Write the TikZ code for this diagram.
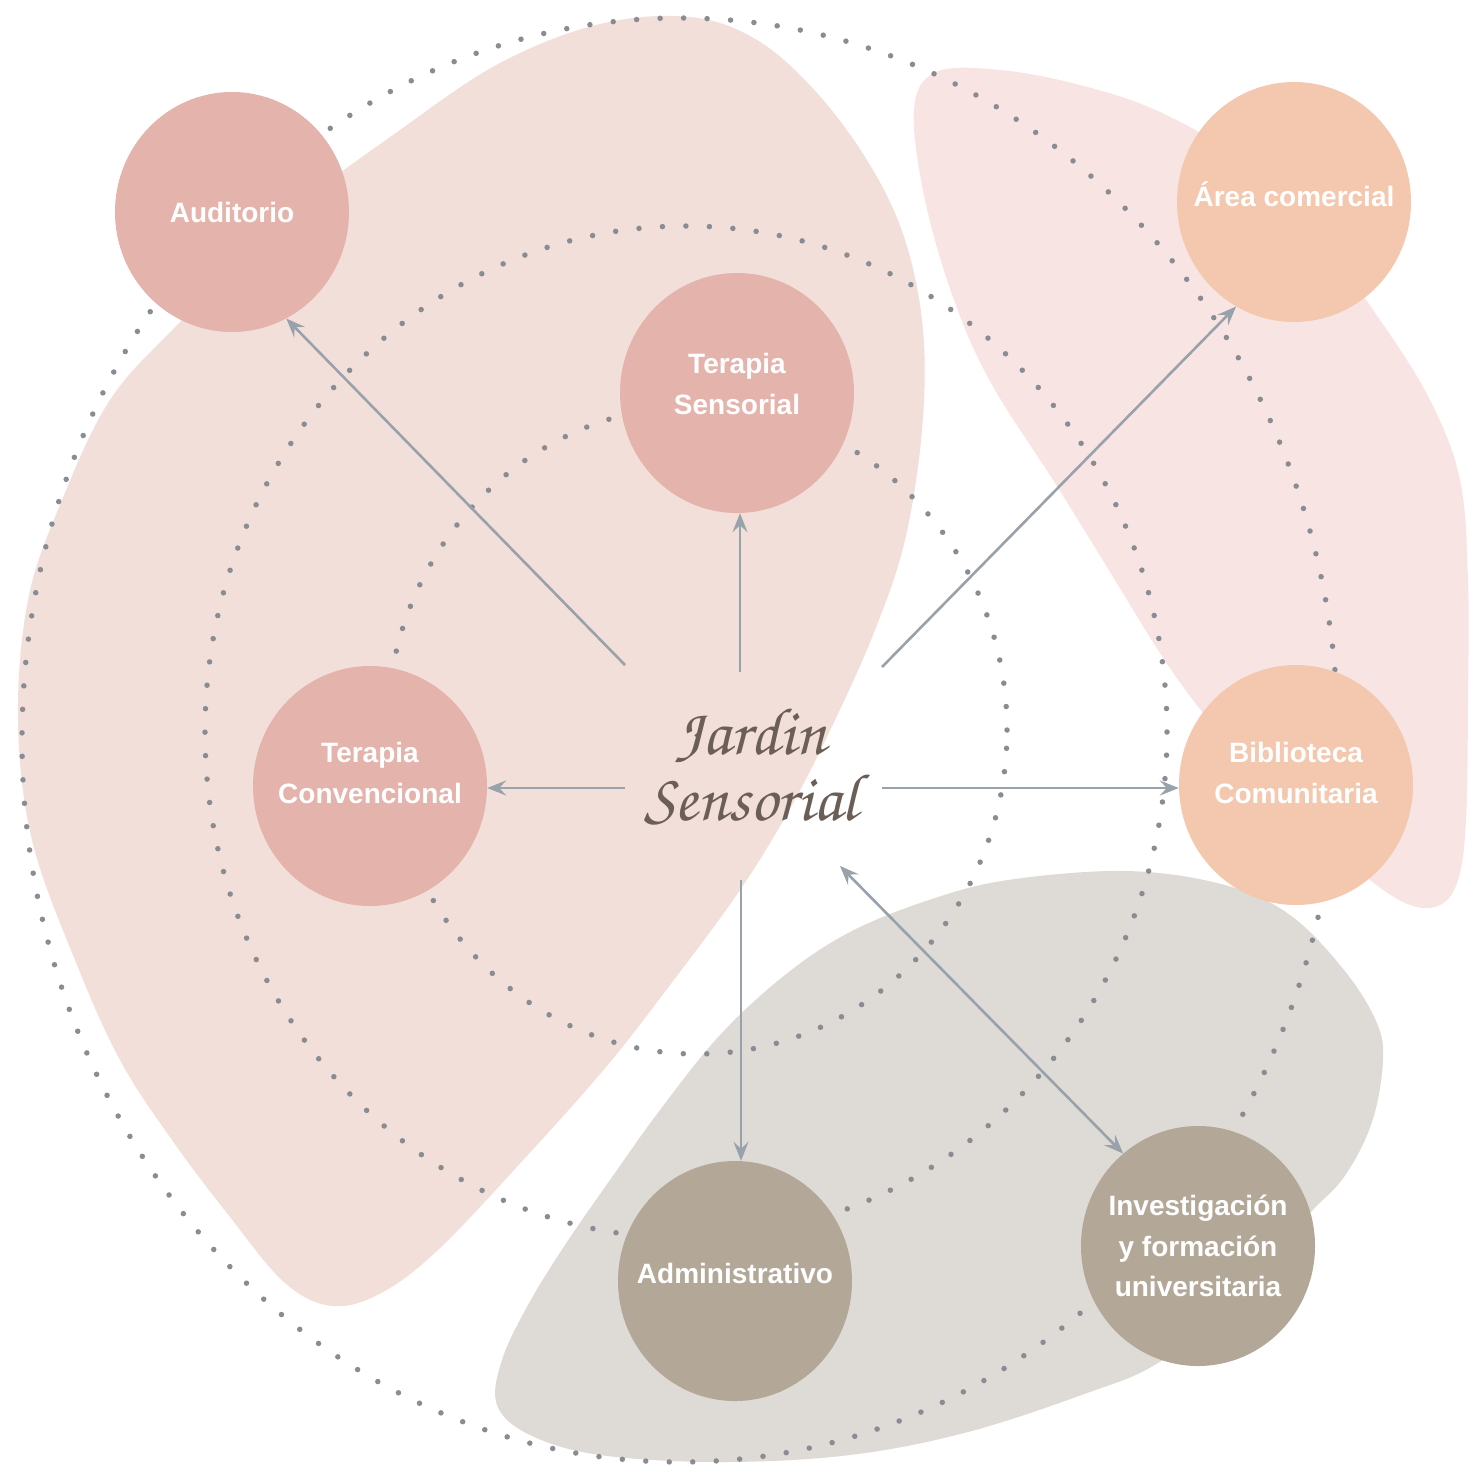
\documentclass[tikz,border=0pt]{standalone}
\usepackage[T1,TU]{fontenc}
\usepackage{fontspec}
\setmainfont{Liberation Sans}
\usetikzlibrary{arrows.meta,shapes.geometric}
\definecolor{blobpink}{HTML}{F2DFD9}
\definecolor{blobrose}{HTML}{F8E5E3}
\definecolor{blobgray}{HTML}{DEDAD6}
\definecolor{nodepink}{HTML}{E4B3AC}
\definecolor{nodepeach}{HTML}{F3C8AE}
\definecolor{nodetaupe}{HTML}{B3A797}
\definecolor{dotc}{HTML}{8A8C93}
\definecolor{arrc}{HTML}{98A2AA}
\definecolor{scriptc}{HTML}{6A5E56}
\newcommand\jscript{\fontencoding{T1}\fontfamily{pzc}\fontseries{mb}\fontshape{it}\selectfont}
\newcommand\nodefnt{\bfseries\fontsize{28}{40.5}\selectfont}
\tikzset{
  dotring/.style={draw=dotc, line width=5.5pt, line cap=round, dash pattern=on 0pt off 23.5pt},
  arr/.style={draw=arrc, line width=2.6pt, -{Stealth[length=19pt,width=15pt,inset=7pt]}},
  dblarr/.style={draw=arrc, line width=2.6pt, {Stealth[length=19pt,width=15pt,inset=7pt]}-{Stealth[length=19pt,width=15pt,inset=7pt]}},
  nodebase/.style={ellipse, minimum width=234pt, minimum height=240pt, inner sep=0pt},
  ntext/.style={text=white, font=\nodefnt, align=center, inner sep=0pt},
  pinknode/.style={nodebase, fill=nodepink},
  peachnode/.style={nodebase, fill=nodepeach},
  taupenode/.style={nodebase, fill=nodetaupe},
  jtext/.style={text=scriptc, font=\jscript\fontsize{67}{66}\selectfont, align=center, inner sep=0pt}
}
\begin{document}
\begin{tikzpicture}[x=1pt,y=-1pt]
\useasboundingbox (0,0) rectangle (1469,1468);
\fill[white] (0,0) rectangle (1469,1468);
% blobs
\fill[blobpink] plot[smooth cycle, tension=0.6] coordinates {
 (400,130) (500,63) (600,24) (690,17) (757,40) (817,93) (870,165) (905,240) (923,330)
 (922,430) (905,540) (875,630) (835,720) (792,805) (740,890) (670,985) (606,1067)
 (525,1158) (440,1248) (383,1292) (333,1306) (285,1283) (230,1217) (172,1140)
 (120,1060) (75,960) (32,840) (18,720) (28,600) (60,505) (110,400) (180,322) (280,220)};
\fill[blobrose] plot[smooth cycle, tension=0.6] coordinates {
 (914,110) (936,72) (1000,70) (1080,85) (1160,112) (1240,160) (1320,240) (1380,320)
 (1430,400) (1460,480) (1468,580) (1468,700) (1466,820) (1458,880) (1440,905)
 (1410,905) (1370,880) (1300,820) (1230,745) (1193,700) (1158,650) (1107,567)
 (1055,483) (991,383) (954,300) (925,200)};
\fill[blobgray] plot[smooth cycle, tension=0.6] coordinates {
 (850,932) (929,900) (1008,880) (1127,871) (1225,885) (1290,915) (1344,970)
 (1376,1021) (1383,1060) (1372,1122) (1344,1177) (1304,1220) (1250,1295) (1158,1363)
 (1087,1393) (968,1432) (850,1455) (720,1462) (600,1455) (530,1435) (497,1405)
 (502,1360) (528,1305) (565,1245) (610,1180) (660,1110) (720,1035) (785,975)};
% dotted rings
\draw[dotring] (680,740) ellipse [x radius=658pt, y radius=722pt];
\draw[dotring] (686,732) ellipse [x radius=481pt, y radius=506pt];
\draw[dotring] (697,730) ellipse [x radius=310pt, y radius=324pt];
% nodes
\node[pinknode, label={[ntext]center:Auditorio}] (aud) at (232,212) {};
\node[pinknode, label={[ntext, yshift=9pt]center:Terapia\\Sensorial}] (ts) at (737,393) {};
\node[pinknode, label={[ntext, yshift=13pt]center:Terapia\\Convencional}] (tc) at (370,786) {};
\node[peachnode, label={[ntext, yshift=8pt]center:Área comercial}] (ac) at (1294,202) {};
\node[peachnode, label={[ntext, yshift=12pt]center:Biblioteca\\Comunitaria}] (bc) at (1296,785) {};
\node[taupenode, label={[ntext, yshift=8pt]center:Administrativo}] (ad) at (735,1281) {};
\node[taupenode, label={[ntext]center:Investigación\\y formación\\universitaria}] (inv) at (1198,1246) {};
\node[jtext] (jard) at (751,766) {Jardin\\Sensorial};
% arrow start points
\coordinate (c1) at (625,665);
\coordinate (c2) at (740,672);
\coordinate (c3) at (882,667);
\coordinate (c4) at (625,788);
\coordinate (c5) at (882,788);
\coordinate (c6) at (741,880);
\coordinate (c7) at (840,866);
\draw[arr] (c1) -- (aud.-63);
\draw[arr] (c2) -- (c2 |- ts.south);
\draw[arr] (c3) -- (ac.-119);
\draw[arr] (c4) -- (c4 -| tc.east);
\draw[arr] (c5) -- (c5 -| bc.west);
\draw[arr] (c6) -- (c6 |- ad.north);
\draw[dblarr] (c7) -- (inv.129);
\end{tikzpicture}
\end{document}
